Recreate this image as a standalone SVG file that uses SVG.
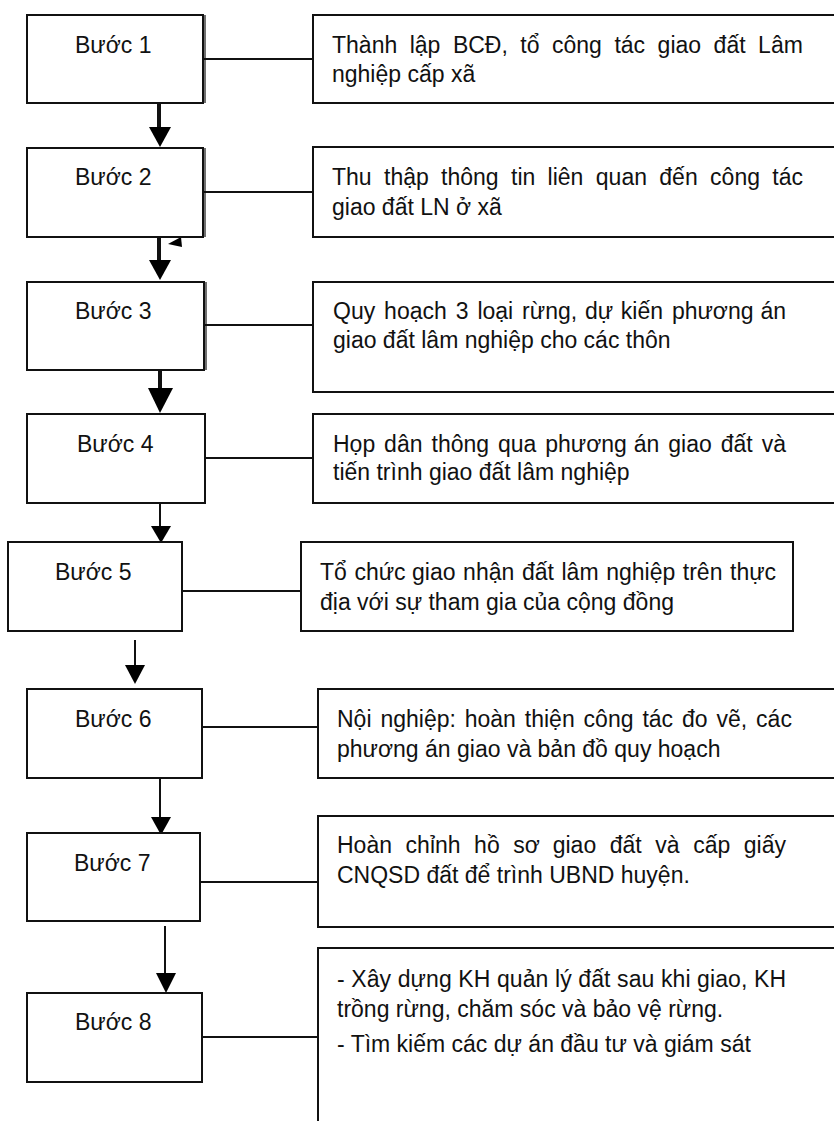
<svg xmlns="http://www.w3.org/2000/svg" width="834" height="1121" viewBox="0 0 834 1121">
  <style>
    .box { fill: #ffffff; stroke: #111111; stroke-width: 2; }
    .edge { stroke: #111111; stroke-width: 1.2; fill: none; }
    .link { stroke: #111111; stroke-width: 2; fill: none; }
    .shaft { stroke: #111111; stroke-width: 2; fill: none; }
    .shaft-bold { stroke: #111111; stroke-width: 4; fill: none; }
    .head { fill: #000000; stroke: none; }
    text { font-family: "Liberation Sans", Arial, sans-serif; font-size: 23px; fill: #111111; }
  </style>
  <rect width="834" height="1121" fill="#ffffff"/>

  <!-- connectors: step-to-description links and step-to-step arrows -->
  <g id="connectors">
    <line class="link" x1="203" y1="59" x2="313" y2="59"/>
    <line class="link" x1="203" y1="192" x2="313" y2="192"/>
    <line class="link" x1="204" y1="325" x2="313" y2="325"/>
    <line class="link" x1="205" y1="458" x2="313" y2="458"/>
    <line class="link" x1="180" y1="591" x2="301" y2="591"/>
    <line class="link" x1="200" y1="727" x2="318" y2="727"/>
    <line class="link" x1="200" y1="882" x2="318" y2="882"/>
    <line class="link" x1="200" y1="1037" x2="318" y2="1037"/>

    <line class="shaft-bold" x1="159" y1="103" x2="159" y2="129"/>
    <polygon class="head" points="149,127 171,127 160,147"/>
    <line class="shaft-bold" x1="159" y1="237" x2="159" y2="262"/>
    <polygon class="head" points="149,260 171,260 160,280"/>
    <polygon class="head" points="168,244 181,237 182,247"/>
    <line class="shaft-bold" x1="160" y1="370" x2="160" y2="390"/>
    <polygon class="head" points="148,388 173,388 160,413"/>
    <line class="shaft" x1="160" y1="503" x2="160" y2="528"/>
    <polygon class="head" points="151,526 171,526 161,543"/>
    <line class="shaft" x1="135" y1="640" x2="135" y2="667"/>
    <polygon class="head" points="125,665 145,665 135,684"/>
    <line class="shaft" x1="160" y1="778" x2="160" y2="819"/>
    <polygon class="head" points="151,817 171,817 161,835"/>
    <line class="shaft" x1="165" y1="926" x2="165" y2="975"/>
    <polygon class="head" points="156,973 176,973 166,993"/>
  </g>

  <!-- step boxes -->
  <g id="step1">
    <rect class="box" x="27" y="15" width="176" height="88"/>
    <line class="edge" x1="205" y1="15" x2="205" y2="103"/>
    <text x="75" y="53">Bước 1</text>
  </g>
  <g id="step2">
    <rect class="box" x="27" y="148" width="176" height="89"/>
    <line class="edge" x1="205" y1="148" x2="205" y2="237"/>
    <text x="75" y="185">Bước 2</text>
  </g>
  <g id="step3">
    <rect class="box" x="27" y="282" width="177" height="88"/>
    <line class="edge" x1="206" y1="282" x2="206" y2="370"/>
    <text x="75" y="319">Bước 3</text>
  </g>
  <g id="step4">
    <rect class="box" x="27" y="414" width="178" height="89"/>
    <text x="77" y="452">Bước 4</text>
  </g>
  <g id="step5">
    <rect class="box" x="8" y="542" width="174" height="89"/>
    <text x="55" y="580">Bước 5</text>
  </g>
  <g id="step6">
    <rect class="box" x="27" y="689" width="175" height="89"/>
    <text x="75" y="727">Bước 6</text>
  </g>
  <g id="step7">
    <rect class="box" x="27" y="833" width="173" height="88"/>
    <text x="74" y="871">Bước 7</text>
  </g>
  <g id="step8">
    <rect class="box" x="27" y="993" width="175" height="89"/>
    <text x="75" y="1030">Bước 8</text>
  </g>

  <!-- description boxes -->
  <g id="desc1">
    <rect class="box" x="313" y="15" width="530" height="88"/>
    <text y="53"><tspan x="332">Thành</tspan><tspan x="409.7">lập</tspan><tspan x="452.9">BCĐ,</tspan><tspan x="520.3">tổ</tspan><tspan x="552">công</tspan><tspan x="614.4">tác</tspan><tspan x="657.6">giao</tspan><tspan x="713.6">đất</tspan><tspan x="758.1">Lâm</tspan></text>
    <text x="332" y="82">nghiệp cấp xã</text>
  </g>
  <g id="desc2">
    <rect class="box" x="313" y="147" width="530" height="90"/>
    <text y="185"><tspan x="332">Thu</tspan><tspan x="384">thập</tspan><tspan x="441.1">thông</tspan><tspan x="511">tin</tspan><tspan x="547.6">liên</tspan><tspan x="595.8">quan</tspan><tspan x="659.3">đến</tspan><tspan x="710.1">công</tspan><tspan x="772.3">tác</tspan></text>
    <text x="332" y="215">giao đất LN ở xã</text>
  </g>
  <g id="desc3">
    <rect class="box" x="313" y="282" width="530" height="110"/>
    <text y="319"><tspan x="333">Quy</tspan><tspan x="384.1">hoạch</tspan><tspan x="455.7">3</tspan><tspan x="477.4">loại</tspan><tspan x="522.1">rừng,</tspan><tspan x="584.9">dự</tspan><tspan x="620.8">kiến</tspan><tspan x="671.9">phương</tspan><tspan x="760.5">án</tspan></text>
    <text x="333" y="348">giao đất lâm nghiệp cho các thôn</text>
  </g>
  <g id="desc4">
    <rect class="box" x="313" y="414" width="530" height="89"/>
    <text y="452"><tspan x="333">Họp</tspan><tspan x="384.1">dân</tspan><tspan x="431.5">thông</tspan><tspan x="497.9">qua</tspan><tspan x="545.2">phương</tspan><tspan x="633.8">án</tspan><tspan x="668.3">giao</tspan><tspan x="720.7">đất</tspan><tspan x="761.7">và</tspan></text>
    <text x="333" y="480">tiến trình giao đất lâm nghiệp</text>
  </g>
  <g id="desc5">
    <rect class="box" x="301" y="542" width="492" height="89"/>
    <text y="580"><tspan x="320">Tổ</tspan><tspan x="354.4">chức</tspan><tspan x="412">giao</tspan><tspan x="463.1">nhận</tspan><tspan x="521.9">đất</tspan><tspan x="561.5">lâm</tspan><tspan x="606.2">nghiệp</tspan><tspan x="682.8">trên</tspan><tspan x="730">thực</tspan></text>
    <text x="320" y="610">địa với sự tham gia của cộng đồng</text>
  </g>
  <g id="desc6">
    <rect class="box" x="318" y="689" width="525" height="89"/>
    <text y="727"><tspan x="337">Nội</tspan><tspan x="380.4">nghiệp:</tspan><tspan x="464.7">hoàn</tspan><tspan x="524.8">thiện</tspan><tspan x="583.6">công</tspan><tspan x="642.4">tác</tspan><tspan x="682">đo</tspan><tspan x="716.5">vẽ,</tspan><tspan x="756.1">các</tspan></text>
    <text x="337" y="757">phương án giao và bản đồ quy hoạch</text>
  </g>
  <g id="desc7">
    <rect class="box" x="318" y="816" width="525" height="111"/>
    <text y="853"><tspan x="337">Hoàn</tspan><tspan x="405.6">chỉnh</tspan><tspan x="474.1">hồ</tspan><tspan x="513.3">sơ</tspan><tspan x="552.7">giao</tspan><tspan x="609.7">đất</tspan><tspan x="655.3">và</tspan><tspan x="693.2">cấp</tspan><tspan x="743.8">giấy</tspan></text>
    <text x="337" y="883">CNQSD đất để trình UBND huyện.</text>
  </g>
  <g id="desc8">
    <rect class="box" x="318" y="948" width="525" height="190"/>
    <text x="337" y="987" textLength="449" lengthAdjust="spacing">- Xây dựng KH quản lý đất sau khi giao, KH</text>
    <text x="337" y="1017">trồng rừng, chăm sóc và bảo vệ rừng.</text>
    <text x="337" y="1052">- Tìm kiếm các dự án đầu tư và giám sát</text>
  </g>
</svg>
